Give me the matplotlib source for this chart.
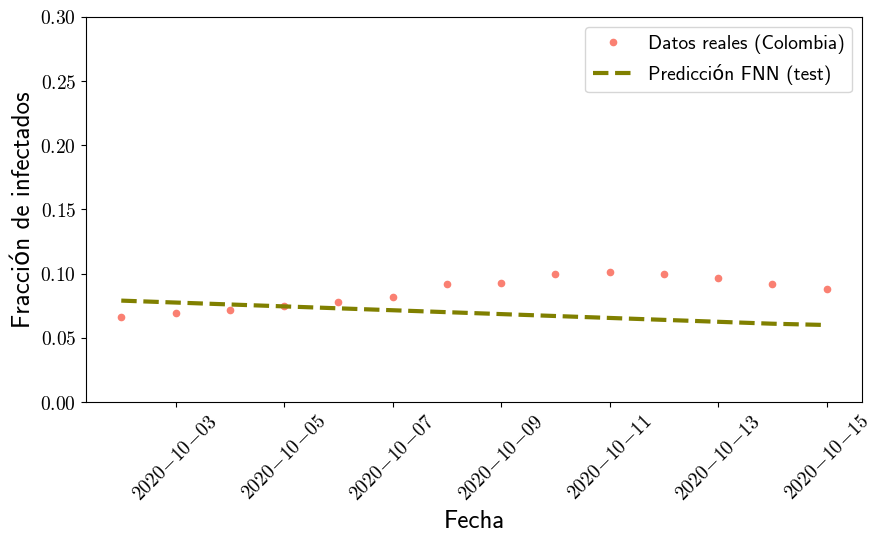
import numpy as np
import pandas as pd
import matplotlib
matplotlib.use('Agg')
import matplotlib.pyplot as plt
import matplotlib.dates as mdates
from matplotlib.ticker import FuncFormatter

plt.rcParams['mathtext.fontset'] = 'cm'
plt.rcParams['axes.unicode_minus'] = False

fechas = pd.date_range('2020-10-02', '2020-10-15', freq='D')
reales = [0.066, 0.069, 0.072, 0.075, 0.078, 0.082, 0.092, 0.093,
          0.100, 0.101, 0.100, 0.097, 0.092, 0.088]
prediccion = [0.079, 0.0775, 0.076, 0.0745, 0.073, 0.0715, 0.070, 0.0685,
              0.067, 0.0655, 0.064, 0.0625, 0.061, 0.060]

fuente = ['cmss10', 'DejaVu Sans']

fig = plt.figure(figsize=(8.82, 5.45), dpi=100)
ax = fig.add_axes([86 / 882, 1 - 402 / 545, 776 / 882, 385 / 545])
ax.plot(fechas, reales, 'o', color='salmon', markersize=4.5, label='Datos reales (Colombia)')
ax.plot(fechas, prediccion, '--', color='olive', linewidth=3, label='Predicción FNN (test)')
ax.set_ylim(0, 0.3)
ax.set_yticks(np.arange(0, 0.31, 0.05))
ax.yaxis.set_major_formatter(FuncFormatter(lambda v, p: r'$%.2f$' % v))
ax.xaxis.set_major_locator(mdates.DayLocator(bymonthday=[3, 5, 7, 9, 11, 13, 15]))
ax.xaxis.set_major_formatter(FuncFormatter(
    lambda v, p: r'$' + mdates.num2date(v).strftime('%Y-%m-%d').replace('-', r'\!-\!') + '$'))
ax.tick_params(labelsize=14)
plt.setp(ax.get_xticklabels(), rotation=45)
ax.set_xlabel('Fecha', fontsize=18, family=fuente)
ax.set_ylabel('Fracción de infectados', fontsize=18, family=fuente)
ax.legend(prop={'family': fuente, 'size': 14})
fig.savefig('out.png', dpi=100)
